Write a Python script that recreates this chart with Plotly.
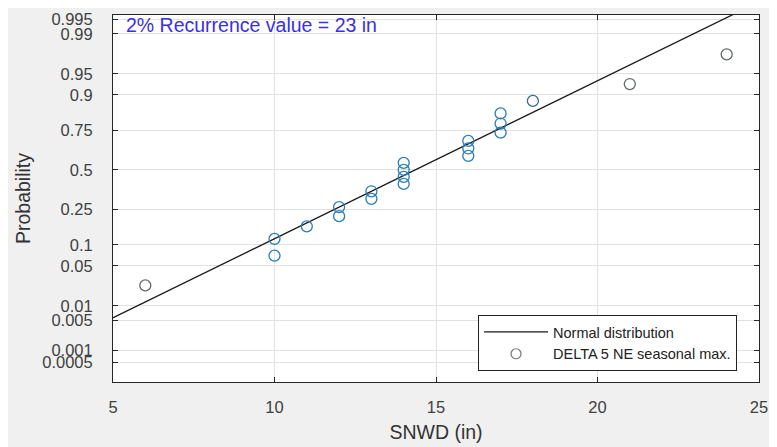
import plotly.graph_objects as go
from statistics import NormalDist

# ---- data ----
snwd = [6, 10, 10, 11, 12, 12, 13, 13, 14, 14, 14, 14, 16, 16, 16, 17, 17, 17, 18, 21, 24]
prob = [0.024, 0.071, 0.119, 0.167, 0.214, 0.262, 0.310, 0.357, 0.405, 0.452, 0.500,
        0.548, 0.595, 0.643, 0.690, 0.738, 0.786, 0.833, 0.881, 0.929, 0.976]
fit_mean = 14.36
fit_std = 3.70
line_snwd = [4.0, 26.0]
prob_ticks = [0.0005, 0.001, 0.005, 0.01, 0.05, 0.1, 0.25, 0.5, 0.75, 0.9, 0.95, 0.99, 0.995]
prob_tick_labels = ["0.0005", "0.001", "0.005", "0.01", "0.05", "0.1", "0.25", "0.5",
                    "0.75", "0.9", "0.95", "0.99", "0.995"]
x_ticks = [5, 10, 15, 20, 25]
annotation_text = "2% Recurrence value = 23 in"

N = NormalDist()
z = lambda p: N.inv_cdf(p)
fit = NormalDist(fit_mean, fit_std)

pt_colors = []
for v in snwd:
    if v <= 6 or v >= 21:
        pt_colors.append("#626a6a")
    elif v == 18:
        pt_colors.append("#3d6890")
    else:
        pt_colors.append("#2a7db5")

FONT = "Liberation Sans, Arial, sans-serif"

fig = go.Figure()
fig.add_trace(go.Scatter(
    x=line_snwd, y=[z(fit.cdf(v)) for v in line_snwd], mode="lines",
    line=dict(color="#1a1a1a", width=1.3), name="Normal distribution"))
fig.add_trace(go.Scatter(
    x=snwd, y=[z(p) for p in prob], mode="markers",
    marker=dict(symbol="circle-open", size=11, color=pt_colors, line=dict(width=1.3)),
    name="DELTA 5 NE seasonal max.", showlegend=False))
fig.add_trace(go.Scatter(
    x=[None], y=[None], mode="markers",
    marker=dict(symbol="circle-open", size=10, color="#777777", line=dict(width=1.2)),
    name="DELTA 5 NE seasonal max."))

fig.add_annotation(text=annotation_text, xref="paper", yref="paper", x=0.017, y=0.972,
                   xanchor="left", yanchor="middle", showarrow=False,
                   font=dict(family=FONT, size=19.5, color="#3a2fe8"))

axis_font = dict(family=FONT, size=16.5, color="#404040")
fig.update_layout(
    width=777, height=447,
    margin=dict(l=105, r=26, t=2, b=73),
    paper_bgcolor="#f0f0f0", plot_bgcolor="white",
    showlegend=True,
    legend=dict(x=0.966, y=0.03, xanchor="right", yanchor="bottom",
                bgcolor="white", bordercolor="#222222", borderwidth=1,
                font=dict(family=FONT, size=14.5, color="#222"),
                tracegroupgap=0, itemwidth=64),
    xaxis=dict(range=[5, 25], tickvals=x_ticks, ticktext=[str(v) for v in x_ticks],
               showgrid=True, gridcolor="#e1e1e1", gridwidth=1, zeroline=False,
               showline=True, linecolor="#262626", linewidth=1, mirror="ticks",
               ticks="inside", ticklen=5, tickcolor="#262626",
               tickfont=axis_font, ticklabelstandoff=10,
               title=dict(text="SNWD (in)", font=dict(family=FONT, size=19.5, color="#333"),
                          standoff=10)),
    yaxis=dict(range=[-3.63, 2.65], tickvals=[z(p) for p in prob_ticks], ticktext=prob_tick_labels,
               showgrid=True, gridcolor="#e1e1e1", gridwidth=1, zeroline=False,
               showline=True, linecolor="#262626", linewidth=1, mirror="ticks",
               ticks="inside", ticklen=5, tickcolor="#262626",
               tickfont=axis_font, ticklabelstandoff=16, ticklabeloverflow="allow",
               title=dict(text="Probability", font=dict(family=FONT, size=19.5, color="#333"),
                          standoff=6)),
)
fig.write_html("out.html")
